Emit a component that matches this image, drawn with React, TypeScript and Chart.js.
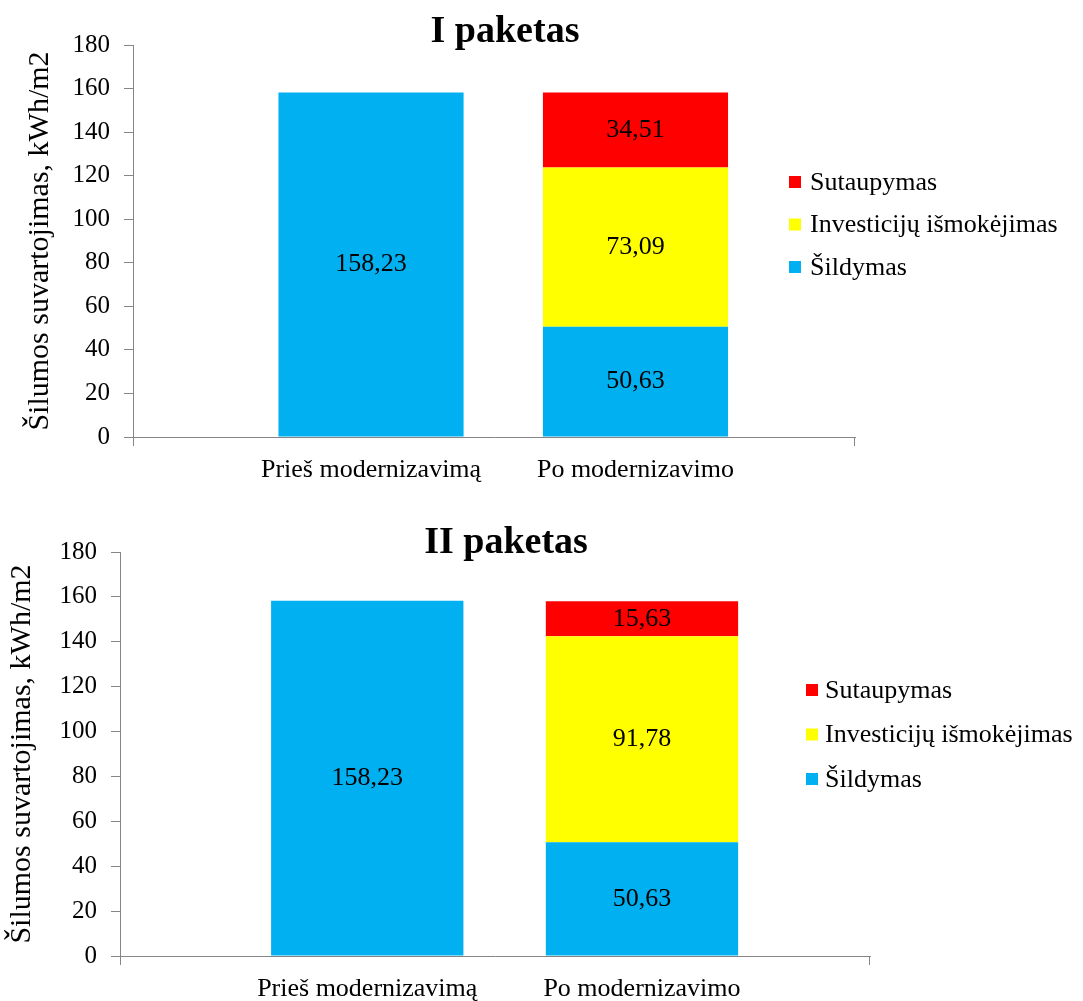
import React, { useEffect, useRef } from "react";
import { Chart, registerables } from "chart.js";

Chart.register(...registerables);

// ---------- data ----------
const categories = ["Prieš modernizavimą", "Po modernizavimo"];
const seriesNames = ["Šildymas", "Investicijų išmokėjimas", "Sutaupymas"];
const seriesColors = ["#00B0F0", "#FFFF00", "#FF0000"];
const chartTitles = ["I paketas", "II paketas"];
const yAxisTitle = "Šilumos suvartojimas, kWh/m2";
const yMin = 0;
const yMax = 180;
const yStep = 20;

const p1Sildymas = [158.23, 50.63];
const p1Investicijos = [null, 73.09];
const p1Sutaupymas = [null, 34.51];

const p2Sildymas = [158.23, 50.63];
const p2Investicijos = [null, 91.78];
const p2Sutaupymas = [null, 15.63];

const packageSeries = [
  [p1Sildymas, p1Investicijos, p1Sutaupymas],
  [p2Sildymas, p2Investicijos, p2Sutaupymas],
];

// ---------- layout (positions / styles) ----------
const FONT = '"Liberation Serif", "Times New Roman", serif';
const AXIS_COLOR = "#868686";
const X_START = -0.9;
const X_RANGE = 2.73;

const layouts = [
  {
    top: 0, height: 500, left: 133, right: 855, areaTop: 45, areaBottom: 437,
    titleX: 505, titleY: 42, yTitlePad: 22,
    legendBoxX: 789, legendTextX: 810, legendY: 182, legendGap: 42.5,
  },
  {
    top: 500, height: 501, left: 120, right: 870, areaTop: 52, areaBottom: 456,
    titleX: 506, titleY: 53, yTitlePad: 4,
    legendBoxX: 806, legendTextX: 825, legendY: 190, legendGap: 44.5,
  },
];

const W = 1083;

const fmt = (v: number) => v.toFixed(2).replace(".", ",");

function makePlugins(idx: number) {
  const L = layouts[idx];
  return [
    {
      id: "segLabels",
      afterDatasetsDraw(chart: any) {
        const ctx = chart.ctx;
        ctx.save();
        ctx.font = `26px ${FONT}`;
        ctx.fillStyle = "#000";
        ctx.textAlign = "center";
        ctx.textBaseline = "middle";
        chart.data.datasets.forEach((ds: any, di: number) => {
          const meta = chart.getDatasetMeta(di);
          meta.data.forEach((el: any, i: number) => {
            const v = ds.data[i];
            if (v === null || v === undefined) return;
            ctx.fillText(fmt(v), el.x, (el.y + el.base) / 2);
          });
        });
        ctx.restore();
      },
    },
    {
      id: "decor",
      afterDraw(chart: any) {
        const ctx = chart.ctx;
        const a = chart.chartArea;
        ctx.save();
        // title
        ctx.font = `bold 38px ${FONT}`;
        ctx.fillStyle = "#000";
        ctx.textAlign = "center";
        ctx.textBaseline = "alphabetic";
        ctx.fillText(chartTitles[idx], L.titleX, L.titleY);
        // end ticks of the x axis
        ctx.strokeStyle = AXIS_COLOR;
        ctx.lineWidth = 1;
        ctx.beginPath();
        ctx.moveTo(Math.round(a.left) + 0.5, a.bottom);
        ctx.lineTo(Math.round(a.left) + 0.5, a.bottom + 9);
        ctx.moveTo(Math.round(a.right) - 0.5, a.bottom);
        ctx.lineTo(Math.round(a.right) - 0.5, a.bottom + 9);
        ctx.stroke();
        // legend (reversed order)
        const n = chart.data.datasets.length;
        ctx.font = `26px ${FONT}`;
        ctx.textAlign = "left";
        ctx.textBaseline = "middle";
        for (let k = 0; k < n; k++) {
          const ds = chart.data.datasets[n - 1 - k];
          const cy = L.legendY + k * L.legendGap;
          ctx.fillStyle = ds.backgroundColor;
          ctx.fillRect(L.legendBoxX, cy - 6, 12, 12);
          ctx.fillStyle = "#000";
          ctx.fillText(ds.label, L.legendTextX, cy + 1);
        }
        ctx.restore();
      },
    },
  ];
}

function PackageChart({ idx }: { idx: number }) {
  const ref = useRef<HTMLCanvasElement | null>(null);
  const L = layouts[idx];
  useEffect(() => {
    if (!ref.current) return;
    const series = packageSeries[idx];
    const chart = new Chart(ref.current, {
      type: "bar",
      data: {
        labels: categories,
        datasets: seriesNames.map((name, i) => ({
          label: name,
          data: series[i],
          backgroundColor: seriesColors[i],
          borderWidth: 0,
          categoryPercentage: 1,
          barPercentage: 0.7,
        })),
      },
      options: {
        responsive: false,
        animation: false,
        devicePixelRatio: 1,
        layout: {
          padding: { left: 0, right: W - L.right, top: L.areaTop, bottom: 0 },
        },
        plugins: {
          legend: { display: false },
          title: { display: false },
          tooltip: { enabled: false },
        },
        scales: {
          x: {
            stacked: true,
            offset: true,
            grid: { display: false, drawTicks: false },
            border: { display: true, color: AXIS_COLOR, width: 1 },
            ticks: {
              font: { family: FONT, size: 26 },
              color: "#000",
              padding: 18,
              maxRotation: 0,
              autoSkip: false,
            },
            afterBuildTicks: (s: any) => {
              s._startValue = X_START;
              s._valueRange = X_RANGE;
            },
            afterFit: (s: any) => {
              s.height = L.height - L.areaBottom;
            },
          },
          y: {
            stacked: true,
            min: yMin,
            max: yMax,
            grid: {
              drawOnChartArea: false,
              drawTicks: true,
              tickLength: 9,
              color: AXIS_COLOR,
            },
            border: { display: true, color: AXIS_COLOR, width: 1 },
            ticks: {
              stepSize: yStep,
              font: { family: FONT, size: 25 },
              color: "#000",
              padding: 14,
            },
            title: {
              display: true,
              text: yAxisTitle,
              font: { family: FONT, size: 30 },
              color: "#000",
              padding: { top: L.yTitlePad, bottom: 0 },
            },
            afterFit: (s: any) => {
              s.width = L.left;
            },
          },
        },
      },
      plugins: makePlugins(idx),
    } as any);
    return () => chart.destroy();
  }, [idx]);
  return (
    <canvas
      ref={ref}
      width={W}
      height={L.height}
      style={{ position: "absolute", left: 0, top: L.top, width: W, height: L.height, display: "block" }}
    />
  );
}

export default function App() {
  return (
    <div style={{ position: "absolute", left: 0, top: 0, width: W, height: 1001, background: "#fff" }}>
      <PackageChart idx={0} />
      <PackageChart idx={1} />
    </div>
  );
}
